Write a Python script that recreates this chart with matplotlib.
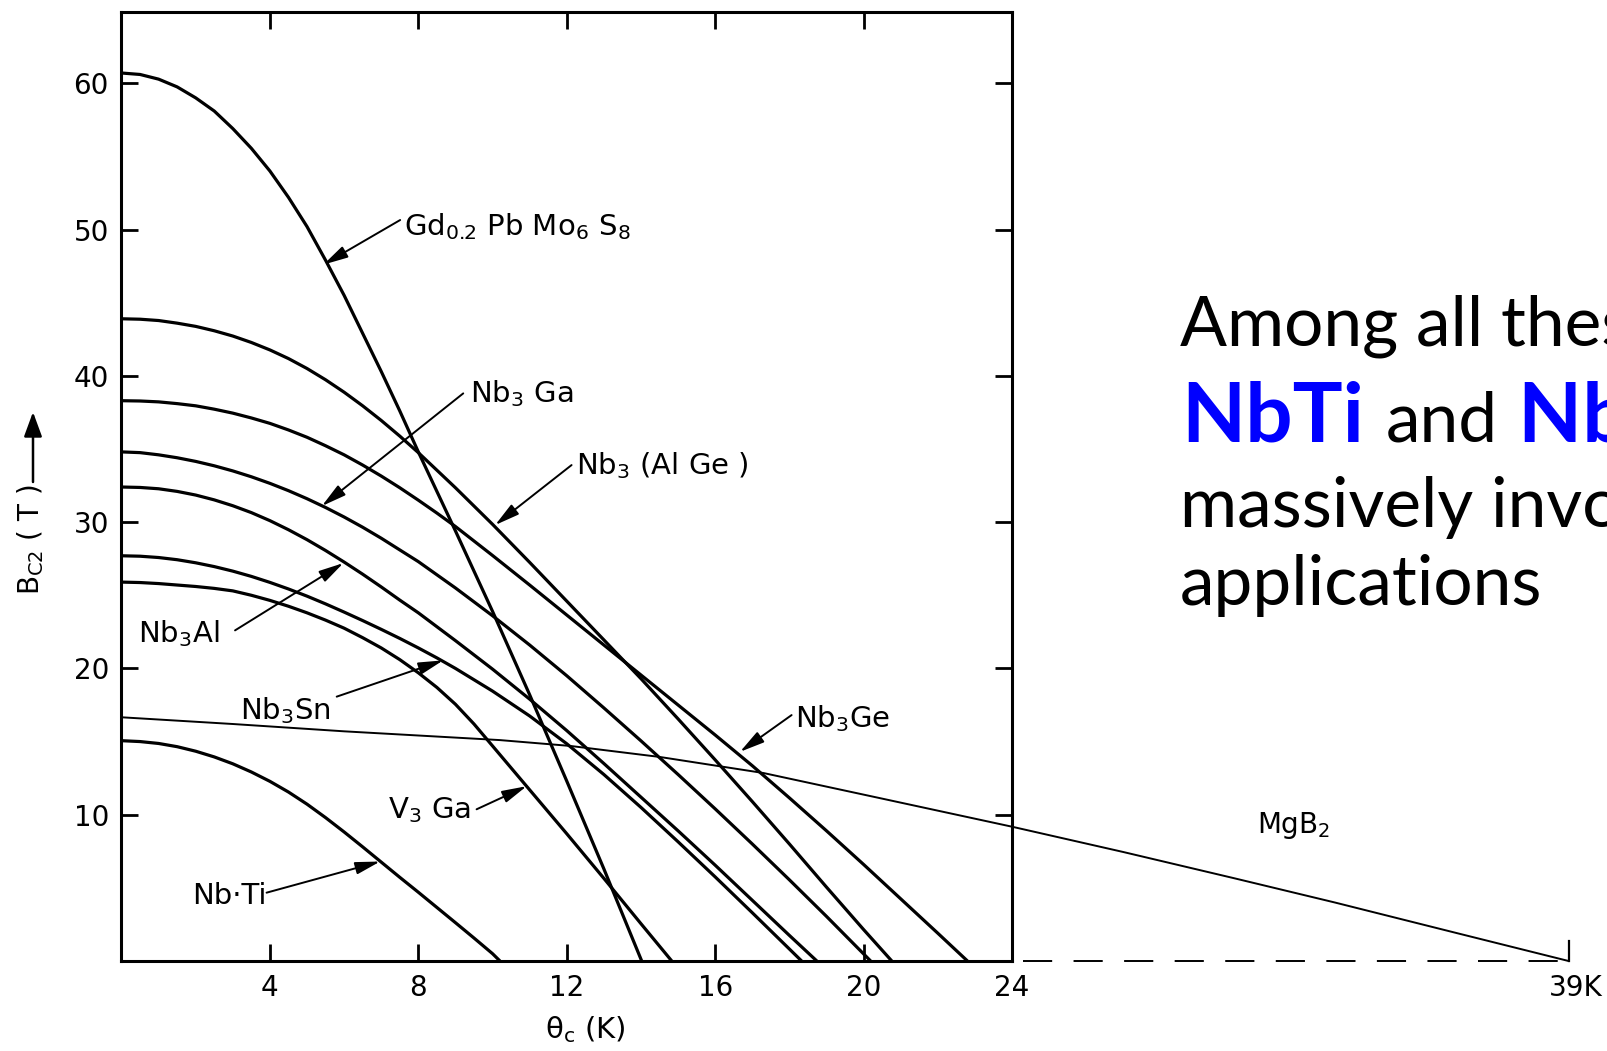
import matplotlib
matplotlib.use("Agg")
import matplotlib.pyplot as plt
from matplotlib.patches import FancyArrowPatch

plt.rcParams['font.family'] = ['DejaVu Sans']
plt.rcParams['mathtext.default'] = 'regular'

# Upper critical field B_c2 (T) versus temperature (K) for technical superconductors
GD_T = [0, 0.5, 1, 1.5, 2, 2.5, 3, 3.5, 4, 4.5, 5, 5.5, 6, 6.5, 7, 7.5, 8,
        9, 10, 11, 12, 13, 14.02]
GD_B = [60.7, 60.6, 60.28, 59.75, 59.0, 58.1, 56.9, 55.55, 54.0, 52.2, 50.2, 47.9,
        45.5, 42.9, 40.3, 37.6, 34.8, 29.4, 23.9, 18.2, 12.3, 6.3, 0]

ALGE_T = [0, 0.5, 1, 1.5, 2, 2.5, 3, 3.5, 4, 4.5, 5, 5.5, 6, 6.5, 7, 7.5, 8,
          9, 10, 11, 12, 13, 14, 15, 16, 17, 18, 19, 20, 20.76]
ALGE_B = [43.9, 43.87, 43.78, 43.6, 43.38, 43.08, 42.72, 42.28, 41.77, 41.18, 40.5,
          39.73, 38.88, 37.95, 36.95, 35.88, 34.75, 32.35, 29.85, 27.25, 24.6, 21.95,
          19.3, 16.55, 13.75, 10.9, 8.0, 5.05, 2.15, 0]

GE_T = [0, 0.5, 1, 1.5, 2, 2.5, 3, 3.5, 4, 4.5, 5, 5.5, 6, 6.5, 7, 7.5, 8, 8.5,
        9, 10, 11, 12, 13, 14, 15, 16, 17, 18, 19, 20, 21, 22, 22.8]
GE_B = [38.3, 38.28, 38.22, 38.1, 37.95, 37.72, 37.45, 37.12, 36.75, 36.3, 35.8,
        35.22, 34.6, 33.9, 33.15, 32.35, 31.5, 30.62, 29.7, 27.72, 25.7, 23.65,
        21.6, 19.55, 17.5, 15.45, 13.35, 11.15, 8.9, 6.6, 4.25, 1.9, 0]

GA_T = [0, 0.5, 1, 1.5, 2, 2.5, 3, 3.5, 4, 4.5, 5, 5.5, 6, 6.5, 7, 7.5, 8,
        9, 10, 11, 12, 13, 14, 15, 16, 17, 18, 19, 20.19]
GA_B = [34.8, 34.75, 34.6, 34.4, 34.15, 33.85, 33.5, 33.1, 32.65, 32.15, 31.6, 31.0,
        30.35, 29.65, 28.9, 28.1, 27.3, 25.5, 23.6, 21.6, 19.5, 17.3, 15.05, 12.75,
        10.4, 8.0, 5.55, 3.05, 0]

AL_T = [0, 0.5, 1, 1.5, 2, 2.5, 3, 3.5, 4, 4.5, 5, 5.5, 6, 6.5, 7, 7.5, 8,
        9, 10, 11, 12, 13, 14, 15, 16, 17, 18, 18.74]
AL_B = [32.4, 32.37, 32.28, 32.1, 31.85, 31.52, 31.12, 30.65, 30.1, 29.48, 28.8,
        28.06, 27.27, 26.44, 25.57, 24.67, 23.8, 21.9, 19.95, 17.9, 15.75, 13.5,
        11.2, 8.9, 6.55, 4.15, 1.75, 0]

SN_T = [0, 0.5, 1, 1.5, 2, 2.5, 3, 3.5, 4, 4.5, 5, 5.5, 6, 6.5, 7, 7.5, 8, 8.5,
        9, 10, 11, 12, 13, 14, 15, 16, 17, 18, 18.33]
SN_B = [27.7, 27.67, 27.58, 27.43, 27.22, 26.96, 26.65, 26.29, 25.88, 25.43, 24.94,
        24.41, 23.85, 23.27, 22.67, 22.05, 21.4, 20.72, 20.0, 18.45, 16.75, 14.85,
        12.75, 10.5, 8.15, 5.75, 3.3, 0.82, 0]

V3GA_T = [0, 0.5, 1, 1.5, 2, 2.5, 3, 3.5, 4, 4.5, 5, 5.5, 6, 6.5, 7, 7.5, 8, 8.5,
          9, 9.5, 10, 11, 12, 13, 14, 14.83]
V3GA_B = [25.9, 25.87, 25.8, 25.7, 25.6, 25.47, 25.3, 25.0, 24.65, 24.25, 23.8,
          23.3, 22.75, 22.1, 21.4, 20.6, 19.7, 18.7, 17.55, 16.2, 14.7, 11.7, 8.7,
          5.65, 2.55, 0]

NBTI_T = [0, 0.5, 1, 1.5, 2, 2.5, 3, 3.5, 4, 4.5, 5, 5.5, 6, 6.5, 7, 7.5, 8, 8.5,
          9, 9.5, 10, 10.2]
NBTI_B = [15.06, 15.0, 14.87, 14.65, 14.34, 13.95, 13.48, 12.92, 12.28, 11.55, 10.72,
          9.8, 8.82, 7.8, 6.76, 5.72, 4.7, 3.66, 2.62, 1.57, 0.5, 0]

MGB2_T = [0, 3, 6, 10.2, 12.1, 14.5, 17.3, 20.5, 24, 27, 30, 32.7, 36, 39]
MGB2_B = [16.66, 16.2, 15.7, 15.1, 14.7, 13.95, 12.85, 11.1, 9.18, 7.45, 5.65, 4.0, 1.9, 0]
MGB2_TC = 39

X_TICKS = [4, 8, 12, 16, 20, 24]
Y_TICKS = [10, 20, 30, 40, 50, 60]

fig = plt.figure(figsize=(16.08, 10.51), dpi=100)
W, H = 1608, 1051
ax = fig.add_axes([121.5 / W, 90 / H, (1012 - 121.5) / W, (961 - 12) / H])
ax.set_xlim(0, 24)
ax.set_ylim(0, 64.87)

curve_kw = dict(color='black', lw=2.3, solid_joinstyle='round', solid_capstyle='butt')
for t, b in [(GD_T, GD_B), (ALGE_T, ALGE_B), (GE_T, GE_B), (GA_T, GA_B), (AL_T, AL_B),
             (SN_T, SN_B), (V3GA_T, V3GA_B), (NBTI_T, NBTI_B)]:
    ax.plot(t, b, **curve_kw)

# MgB2 runs past the frame out to its Tc
ax.plot(MGB2_T, MGB2_B, color='black', lw=1.4, clip_on=False, solid_joinstyle='round')
ax.plot([24.3, MGB2_TC], [0, 0], color='black', lw=1.4, ls=(0, (15, 11)), clip_on=False)
ax.plot([MGB2_TC, MGB2_TC], [0, 1.4], color='black', lw=1.6, clip_on=False)
ax.annotate("39K", xy=(MGB2_TC + 0.2, 0), xytext=(0, -9), textcoords='offset points',
            ha='center', va='top', fontsize=20, annotation_clip=False)

for s in ax.spines.values():
    s.set_linewidth(2.2)
ax.set_xticks(X_TICKS)
ax.set_yticks(Y_TICKS)
ax.tick_params(direction='in', length=12, width=2, top=True, right=True,
               labelsize=20, pad=9)

arrow_kw = dict(arrowstyle='-|>,head_length=0.6,head_width=0.15', mutation_scale=25,
                lw=1.4, color='black', shrinkA=0, shrinkB=0)


def label(text, pos, tail, tip):
    ax.text(pos[0], pos[1], text, fontsize=21, ha='left', va='baseline')
    ax.annotate('', xy=tip, xytext=tail, arrowprops=arrow_kw)


label(r"Gd$_{0.2}$ Pb Mo$_6$ S$_8$", (7.62, 49.6), (7.51, 50.65), (5.44, 47.6))
label(r"Nb$_3$ Ga", (9.39, 38.2), (9.21, 38.8), (5.4, 31.1))
label(r"Nb$_3$ (Al Ge )", (12.25, 33.3), (12.13, 33.9), (10.07, 29.8))
label(r"Nb$_3$Al", (0.45, 21.8), (3.06, 22.6), (5.98, 27.2))
label(r"Nb$_3$Sn", (3.19, 16.5), (5.8, 18.07), (8.67, 20.55))
label(r"V$_3$ Ga", (7.19, 9.75), (9.57, 10.37), (10.92, 11.95))
label("Nb·Ti", (1.89, 3.9), (3.91, 4.67), (6.97, 6.8))
label(r"Nb$_3$Ge", (18.15, 15.95), (18.06, 16.81), (16.67, 14.3))
ax.text(30.6, 8.77, r"MgB$_2$", fontsize=20, ha='left', va='baseline')

# axis titles
fig.text(585 / W, 1 - 1030 / H, r"θ$_c$ (K)", fontsize=21, ha='center', va='center')
fig.text(31 / W, 1 - 540 / H, r"B$_{C2}$ ( T )", fontsize=20, rotation=90,
         ha='center', va='center')
fig.add_artist(FancyArrowPatch(
    (33 / W, 1 - 482 / H), (33 / W, 1 - 412 / H), transform=fig.transFigure,
    arrowstyle='-|>,head_length=0.6,head_width=0.22', mutation_scale=25,
    lw=1.8, color='black', shrinkA=0, shrinkB=0))

# side note
side = ['Lato', 'DejaVu Sans']
blue = '#0000FF'
fig.text(1180 / W, 1 - 345 / H, "Among all these superconductors,", fontsize=50,
         family=side, ha='left', va='baseline')
fig.text(1181 / W, 1 - 442 / H, "NbTi", fontsize=60, family=side, weight='bold',
         color=blue, ha='left', va='baseline')
fig.text(1386 / W, 1 - 442 / H, "and", fontsize=50, family=side, ha='left', va='baseline')
fig.text(1518 / W, 1 - 442 / H, "Nb₃Sn are", fontsize=60, family=side, weight='bold',
         color=blue, ha='left', va='baseline')
fig.text(1180 / W, 1 - 527 / H, "massively involved in", fontsize=50, family=side,
         ha='left', va='baseline')
fig.text(1180 / W, 1 - 605 / H, "applications", fontsize=50, family=side,
         ha='left', va='baseline')

fig.savefig("out.png", dpi=100, facecolor='white')
